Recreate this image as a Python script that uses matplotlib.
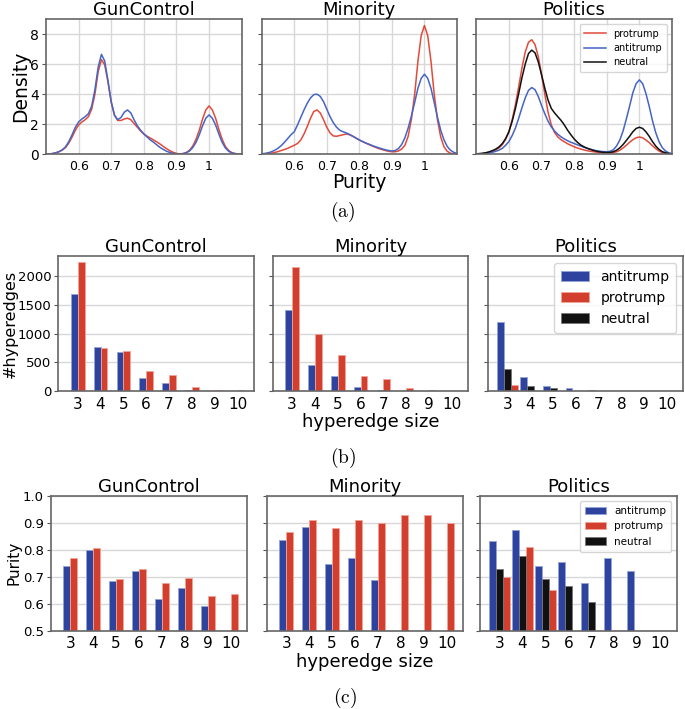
import numpy as np
import matplotlib
matplotlib.use('Agg')
from matplotlib import pyplot as plt

plt.rcParams['mathtext.fontset'] = 'cm'

# ---- data ----------------------------------------------------------------
datasets = ['GunControl', 'Minority', 'Politics']

# (a) purity density curves, every 0.01 of purity
purity_grid = [0.50, 0.51, 0.52, 0.53, 0.54, 0.55, 0.56, 0.57, 0.58, 0.59,
               0.60, 0.61, 0.62, 0.63, 0.64, 0.65, 0.66, 0.67, 0.68, 0.69,
               0.70, 0.71, 0.72, 0.73, 0.74, 0.75, 0.76, 0.77, 0.78, 0.79,
               0.80, 0.81, 0.82, 0.83, 0.84, 0.85, 0.86, 0.87, 0.88, 0.89,
               0.90, 0.91, 0.92, 0.93, 0.94, 0.95, 0.96, 0.97, 0.98, 0.99,
               1.00, 1.01, 1.02, 1.03, 1.04, 1.05, 1.06, 1.07, 1.08, 1.09,
               1.10]
gun_anti_density = [0.0, 0.02, 0.05, 0.1, 0.18, 0.3, 0.5, 0.85, 1.3, 1.8,
                    2.15, 2.35, 2.5, 2.7, 3.2, 4.3, 5.8, 6.65, 6.2, 4.9,
                    3.5, 2.6, 2.3, 2.45, 2.8, 2.95, 2.75, 2.3, 1.9, 1.6,
                    1.35, 1.15, 0.95, 0.8, 0.62, 0.45, 0.32, 0.2, 0.12, 0.06,
                    0.03, 0.02, 0.04, 0.1, 0.22, 0.45, 0.8, 1.3, 1.9, 2.4,
                    2.62, 2.4, 1.95, 1.35, 0.8, 0.42, 0.2, 0.09, 0.04, 0.02,
                    0.01]
gun_pro_density = [0.0, 0.02, 0.05, 0.1, 0.17, 0.28, 0.45, 0.75, 1.15, 1.6,
                   1.95, 2.15, 2.3, 2.5, 3.0, 4.0, 5.5, 6.3, 5.95, 4.8,
                   3.45, 2.6, 2.25, 2.25, 2.35, 2.4, 2.3, 2.05, 1.8, 1.55,
                   1.35, 1.2, 1.08, 0.95, 0.82, 0.68, 0.52, 0.37, 0.24, 0.13,
                   0.06, 0.03, 0.05, 0.12, 0.27, 0.55, 1.0, 1.6, 2.35, 2.95,
                   3.22, 2.95, 2.4, 1.65, 1.0, 0.52, 0.25, 0.11, 0.05, 0.02,
                   0.01]
min_anti_density = [0.03, 0.06, 0.1, 0.17, 0.27, 0.4, 0.58, 0.8, 1.05, 1.3,
                    1.5, 1.95, 2.45, 2.95, 3.4, 3.75, 3.97, 4.0, 3.85, 3.5,
                    3.0, 2.5, 2.1, 1.8, 1.6, 1.5, 1.42, 1.32, 1.2, 1.08,
                    0.95, 0.85, 0.75, 0.67, 0.58, 0.5, 0.43, 0.36, 0.3, 0.25,
                    0.22, 0.25, 0.38, 0.65, 1.1, 1.75, 2.55, 3.45, 4.4, 5.05,
                    5.33, 5.05, 4.4, 3.45, 2.46, 1.6, 0.96, 0.52, 0.27, 0.13,
                    0.07]
min_pro_density = [0.02, 0.03, 0.05, 0.08, 0.12, 0.18, 0.25, 0.32, 0.4, 0.5,
                   0.6, 0.72, 0.95, 1.35, 1.85, 2.4, 2.85, 2.95, 2.75, 2.3,
                   1.8, 1.42, 1.22, 1.2, 1.25, 1.3, 1.35, 1.3, 1.2, 1.07,
                   0.95, 0.84, 0.74, 0.64, 0.55, 0.46, 0.38, 0.31, 0.25, 0.2,
                   0.17, 0.17, 0.22, 0.35, 0.6, 1.2, 2.35, 4.0, 6.2, 7.9,
                   8.57, 7.9, 6.2, 4.0, 2.3, 1.15, 0.5, 0.2, 0.07, 0.03,
                   0.01]
pol_pro_density = [0.02, 0.03, 0.05, 0.08, 0.13, 0.2, 0.3, 0.43, 0.65, 1.0,
                   1.5, 2.3, 3.3, 4.5, 5.75, 6.8, 7.45, 7.62, 7.3, 6.5,
                   5.3, 4.0, 2.8, 1.95, 1.45, 1.15, 0.97, 0.83, 0.7, 0.6,
                   0.5, 0.42, 0.35, 0.29, 0.24, 0.2, 0.17, 0.14, 0.12, 0.11,
                   0.1, 0.1, 0.12, 0.17, 0.27, 0.42, 0.6, 0.8, 0.97, 1.1,
                   1.15, 1.1, 0.95, 0.78, 0.57, 0.38, 0.22, 0.12, 0.06, 0.03,
                   0.02]
pol_anti_density = [0.02, 0.03, 0.04, 0.06, 0.1, 0.14, 0.2, 0.28, 0.4, 0.6,
                    0.85, 1.25, 1.75, 2.4, 3.1, 3.75, 4.25, 4.44, 4.3, 3.85,
                    3.25, 2.7, 2.2, 1.82, 1.55, 1.33, 1.16, 1.02, 0.9, 0.8,
                    0.72, 0.63, 0.55, 0.47, 0.4, 0.34, 0.28, 0.23, 0.2, 0.18,
                    0.17, 0.2, 0.3, 0.55, 0.95, 1.55, 2.35, 3.2, 4.1, 4.7,
                    4.95, 4.7, 4.05, 3.2, 2.25, 1.45, 0.85, 0.45, 0.22, 0.1,
                    0.05]
pol_neu_density = [0.03, 0.05, 0.07, 0.11, 0.17, 0.25, 0.35, 0.5, 0.72, 1.05,
                   1.5, 2.2, 3.05, 4.05, 5.1, 6.0, 6.7, 6.93, 6.75, 6.15,
                   5.3, 4.4, 3.6, 3.05, 2.75, 2.5, 2.25, 1.95, 1.6, 1.3,
                   1.02, 0.8, 0.62, 0.5, 0.4, 0.32, 0.25, 0.2, 0.16, 0.13,
                   0.12, 0.13, 0.17, 0.27, 0.43, 0.65, 0.92, 1.2, 1.5, 1.72,
                   1.8, 1.72, 1.5, 1.2, 0.85, 0.55, 0.33, 0.18, 0.1, 0.05,
                   0.02]

# (b) number of hyperedges per size
sizes = [3, 4, 5, 6, 7, 8, 9, 10]
gun_anti_count = [1690, 771, 678, 232, 139, 10, 0, 0]
gun_pro_count = [2240, 742, 701, 342, 284, 64, 23, 10]
min_anti_count = [1403, 447, 255, 75, 10, 0, 0, 0]
min_pro_count = [2151, 991, 626, 266, 209, 58, 15, 0]
pol_anti_count = [1205, 238, 87, 52, 18, 8, 0, 0]
pol_pro_count = [104, 8, 3, 0, 0, 0, 0, 0]
pol_neu_count = [377, 87, 46, 0, 0, 0, 0, 0]

# (c) mean purity per size (nan = no bar)
nan = np.nan
gun_anti_purity = [0.741, 0.799, 0.683, 0.720, 0.617, 0.658, 0.591, nan]
gun_pro_purity = [0.768, 0.806, 0.693, 0.730, 0.678, 0.694, 0.628, 0.636]
min_anti_purity = [0.835, 0.885, 0.746, 0.768, 0.688, nan, nan, nan]
min_pro_purity = [0.867, 0.909, 0.879, 0.909, 0.899, 0.930, 0.930, 0.899]
pol_anti_purity = [0.831, 0.874, 0.740, 0.753, 0.675, 0.768, 0.722, nan]
pol_pro_purity = [0.699, 0.809, 0.649, nan, nan, nan, nan, nan]
pol_neu_purity = [0.728, 0.778, 0.693, 0.667, 0.606, nan, nan, nan]

# ---- style ---------------------------------------------------------------
BLUE, RED, BLACK = '#2d439d', '#d23f2f', '#111111'
BLUE_EDGE, RED_EDGE, BLACK_EDGE = '#93a3da', '#f2a596', '#777777'
LINE_BLUE, LINE_RED = '#4565c5', '#e24a3b'
W, H = 685, 709


def rect(l, r, t, b):
    return [l / W, 1 - b / H, (r - l) / W, (b - t) / H]


def style_axes(ax, grid_x):
    for s in ax.spines.values():
        s.set_color('#666666')
        s.set_linewidth(1.2)
    ax.set_axisbelow(True)
    ax.grid(axis='y', color='#d8d8d8', lw=1.0)
    if grid_x:
        ax.grid(axis='x', color='#d8d8d8', lw=1.0)
    ax.tick_params(axis='x', length=0, pad=4)
    ax.tick_params(axis='y', length=3, color='#555555', pad=2)


fig = plt.figure(figsize=(6.85, 7.09), dpi=100)

# ---- row (a): densities --------------------------------------------------
row_a = [rect(46, 241.7, 19, 154.3), rect(261.7, 457, 19, 154.3), rect(476.3, 672, 19, 154.3)]
dens = [(gun_pro_density, gun_anti_density, None),
        (min_pro_density, min_anti_density, None),
        (pol_pro_density, pol_anti_density, pol_neu_density)]
for i, (r, (pro, anti, neu)) in enumerate(zip(row_a, dens)):
    ax = fig.add_axes(r)
    style_axes(ax, True)
    ax.plot(purity_grid, pro, color=LINE_RED, lw=1.1, label='protrump')
    ax.plot(purity_grid, anti, color=LINE_BLUE, lw=1.1, label='antitrump')
    if neu is not None:
        ax.plot(purity_grid, neu, color=BLACK, lw=1.1, label='neutral')
        ax.legend(loc='upper right', fontsize=7, handlelength=2.2, borderpad=0.5,
                  labelspacing=0.45, edgecolor='#cccccc')
    ax.set_xlim(0.5, 1.1)
    ax.set_ylim(0, 9.0)
    ax.set_xticks([0.6, 0.7, 0.8, 0.9, 1.0])
    ax.set_xticklabels(['0.6', '0.7', '0.8', '0.9', '1'], fontsize=9)
    ax.set_yticks([0, 2, 4, 6, 8])
    if i == 0:
        ax.set_yticklabels(['0', '2', '4', '6', '8'], fontsize=10)
    else:
        ax.set_yticklabels([])
    ax.set_title(datasets[i], fontsize=13, pad=2.5)

fig.text(21 / W, 1 - 86.5 / H, 'Density', rotation=90, fontsize=13.5, ha='center', va='center')
fig.text(359 / W, 1 - 182 / H, 'Purity', fontsize=13.5, ha='center', va='center')
fig.text(343 / W, 1 - 212 / H, r'$\mathrm{(a)}$', fontsize=14, ha='center', va='center')


def bar_panel(ax, anti, pro, neu):
    x = np.array(sizes, dtype=float)
    if neu is None:
        ax.bar(x - 0.15, anti, 0.3, color=BLUE, edgecolor=BLUE_EDGE, lw=0.6, label='antitrump')
        ax.bar(x + 0.15, pro, 0.3, color=RED, edgecolor=RED_EDGE, lw=0.6, label='protrump')
    else:
        ax.bar(x - 0.3, anti, 0.3, color=BLUE, edgecolor=BLUE_EDGE, lw=0.6, label='antitrump')
        ax.bar(x + 0.3, pro, 0.3, color=RED, edgecolor=RED_EDGE, lw=0.6, label='protrump')
        ax.bar(x, neu, 0.3, color=BLACK, edgecolor=BLACK_EDGE, lw=0.6, label='neutral')
    ax.set_xlim(2.15, 10.72)
    ax.set_xticks(sizes)
    ax.set_xticklabels([str(s) for s in sizes], fontsize=11)


# ---- row (b): counts -----------------------------------------------------
row_b = [rect(58.3, 254, 256, 391), rect(272.7, 468.3, 256, 391), rect(488.3, 683.3, 256, 391)]
counts = [(gun_anti_count, gun_pro_count, None),
          (min_anti_count, min_pro_count, None),
          (pol_anti_count, pol_pro_count, pol_neu_count)]
for i, (r, (anti, pro, neu)) in enumerate(zip(row_b, counts)):
    ax = fig.add_axes(r)
    style_axes(ax, False)
    bar_panel(ax, anti, pro, neu)
    ax.set_ylim(0, 2350)
    ax.set_yticks([0, 500, 1000, 1500, 2000])
    if i == 0:
        ax.set_yticklabels(['0', '500', '1000', '1500', '2000'], fontsize=9.5)
    else:
        ax.set_yticklabels([])
    if neu is not None:
        ax.legend(loc='upper right', fontsize=10, borderpad=0.5, labelspacing=0.5,
                  edgecolor='#cccccc')
    ax.set_title(datasets[i], fontsize=13, pad=2.5)

fig.text(10 / W, 1 - 323.5 / H, '#hyperedges', rotation=90, fontsize=11.5, ha='center', va='center')
fig.text(370.5 / W, 1 - 422 / H, 'hyperedge size', fontsize=13, ha='center', va='center')
fig.text(343 / W, 1 - 458 / H, r'$\mathrm{(b)}$', fontsize=14, ha='center', va='center')

# ---- row (c): purity per size --------------------------------------------
row_c = [rect(50.7, 247.3, 495.7, 630.7), rect(266.7, 463.3, 495.7, 630.7), rect(480, 676.7, 495.7, 630.7)]
purities = [(gun_anti_purity, gun_pro_purity, None),
            (min_anti_purity, min_pro_purity, None),
            (pol_anti_purity, pol_pro_purity, pol_neu_purity)]
for i, (r, (anti, pro, neu)) in enumerate(zip(row_c, purities)):
    ax = fig.add_axes(r)
    style_axes(ax, False)
    bar_panel(ax, anti, pro, neu)
    ax.set_ylim(0.5, 1.0)
    ax.set_yticks([0.5, 0.6, 0.7, 0.8, 0.9, 1.0])
    if i == 0:
        ax.set_yticklabels(['0.5', '0.6', '0.7', '0.8', '0.9', '1.0'], fontsize=9.5)
    else:
        ax.set_yticklabels([])
    if neu is not None:
        ax.legend(loc='upper right', fontsize=7.5, borderpad=0.5, labelspacing=0.5,
                  edgecolor='#cccccc')
    ax.set_title(datasets[i], fontsize=13, pad=2.5)

fig.text(14 / W, 1 - 563 / H, 'Purity', rotation=90, fontsize=11, ha='center', va='center')
fig.text(365 / W, 1 - 662 / H, 'hyperedge size', fontsize=13, ha='center', va='center')
fig.text(345 / W, 1 - 698 / H, r'$\mathrm{(c)}$', fontsize=14, ha='center', va='center')

plt.savefig('out.png', dpi=100)
